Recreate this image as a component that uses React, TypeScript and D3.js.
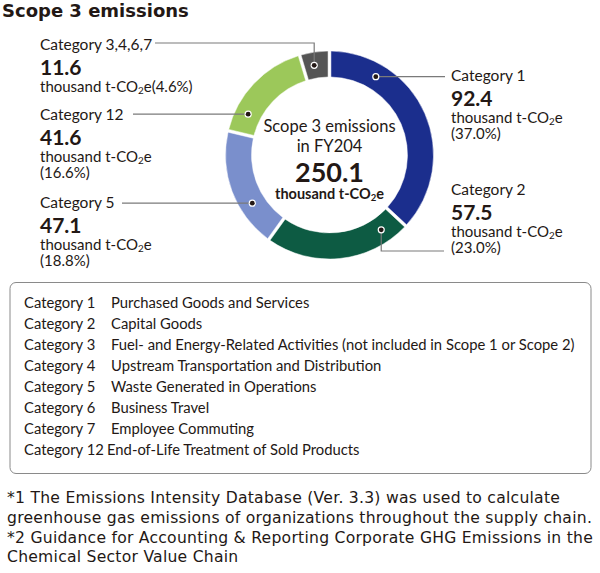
import React from 'react';
import * as d3 from 'd3';

// chart data
const categories = ['Category 1', 'Category 2', 'Category 5', 'Category 12', 'Category 3,4,6,7'];
const values = [92.4, 57.5, 47.1, 41.6, 11.6];
const shares = ['37.0%', '23.0%', '18.8%', '16.6%', '4.6%'];
const colors = ['#1b2e8d', '#0d5b43', '#7a8fcc', '#9cc85a', '#555555'];
const total = '250.1';

const legendCodes = ['Category 1', 'Category 2', 'Category 3', 'Category 4', 'Category 5', 'Category 6', 'Category 7', 'Category 12'];
const legendNames = [
    'Purchased Goods and Services',
    'Capital Goods',
    'Fuel- and Energy-Related Activities (not included in Scope 1 or Scope 2)',
    'Upstream Transportation and Distribution',
    'Waste Generated in Operations',
    'Business Travel',
    'Employee Commuting',
    'End-of-Life Treatment of Sold Products',
];

const footnotes = [
    '*1 The Emissions Intensity Database (Ver. 3.3) was used to calculate',
    'greenhouse gas emissions of organizations throughout the supply chain.',
    '*2 Guidance for Accounting & Reporting Corporate GHG Emissions in the',
    'Chemical Sector Value Chain',
];

// label layout: where the dot sits inside its slice (0..1), label anchor, elbow
const annot = [
    { t: 0.23, side: 'right', lx: 451, ly: 81, elbowY: null, lineEnd: 445 },
    { t: 0.15, side: 'right', lx: 451, ly: 195, elbowY: 251, lineEnd: 444 },
    { t: 0.33, side: 'left', lx: 40, ly: 208, elbowY: null, lineEnd: 122 },
    { t: 0.22, side: 'left', lx: 40, ly: 120, elbowY: null, lineEnd: 133 },
    { t: 0.42, side: 'left', lx: 40, ly: 50, elbowY: 43, lineEnd: 155 },
];

const FONT = 'Lato, "Noto Sans", sans-serif';
const TXT = '#231815';

// "t-CO2e" with a small subscript 2
const CO2e = ({ size }: { size: number }) => (
    <>
        t-CO<tspan fontSize={size * 0.66} dy={size * 0.14}>2</tspan><tspan dy={-size * 0.14}>e</tspan>
    </>
);

const App: React.FC = () => {
    const width = 600;
    const height = 573;
    const cx = 329.5;
    const cy = 155;
    const outerR = 104;
    const innerR = 78;
    const midR = (outerR + innerR) / 2;

    const pie = d3.pie<number>().sort(null).value(d => d);
    const slices = pie(values);
    const arc = d3.arc<d3.PieArcDatum<number>>()
        .innerRadius(innerR)
        .outerRadius(outerR)
        .padAngle(0.022);

    const pt = (a: number, r: number) => [cx + r * Math.sin(a), cy - r * Math.cos(a)];

    return (
        <svg width={width} height={height} style={{ position: 'absolute', left: 0, top: 0 }}>
            <rect width={width} height={height} fill="#fff" />
            <text x={2} y={17} fontFamily='"DejaVu Sans", Verdana, sans-serif' fontWeight="bold" fontSize={18} fill={TXT}>
                Scope 3 emissions
            </text>

            <g transform={`translate(${cx},${cy})`}>
                {slices.map((s, i) => (
                    <path key={i} d={arc(s) || ''} fill={colors[i]} stroke="#fff" strokeWidth={0.5} />
                ))}
            </g>

            {/* center text */}
            <g fontFamily={FONT} fill={TXT} textAnchor="middle">
                <text x={cx} y={132} fontSize={16.5}>Scope 3 emissions</text>
                <text x={cx} y={152} fontSize={16.5}>in FY204</text>
                <text x={cx} y={182} fontSize={27} fontWeight="bold">{total}</text>
                <text x={cx} y={198.5} fontSize={14.5} fontWeight="bold">thousand <CO2e size={14.5} /></text>
            </g>

            {/* leader lines and labels */}
            {slices.map((s, i) => {
                const a = annot[i];
                const ang = s.startAngle + (s.endAngle - s.startAngle) * a.t;
                const [dx, dy] = pt(ang, midR);
                const path = a.elbowY !== null
                    ? `M${dx},${dy}V${a.elbowY}H${a.lineEnd}`
                    : `M${dx},${dy}H${a.lineEnd}`;
                return (
                    <g key={i} fontFamily={FONT} fill={TXT}>
                        <path d={path} fill="none" stroke="#7a7a7a" strokeWidth={1.2} />
                        <circle cx={dx} cy={dy} r={3.6} fill="#fff" />
                        <circle cx={dx} cy={dy} r={2.4} fill="#231815" />
                        <text x={a.lx} y={a.ly} fontSize={15.5}>{categories[i]}</text>
                        <text x={a.lx} y={a.ly + 24.5} fontSize={21} fontWeight="bold">{values[i].toFixed(1)}</text>
                        {i === 4 ? (
                            <text x={a.lx} y={a.ly + 42} fontSize={15}>thousand <CO2e size={15} />({shares[i]})</text>
                        ) : (
                            <>
                                <text x={a.lx} y={a.ly + 42} fontSize={15}>thousand <CO2e size={15} /></text>
                                <text x={a.lx} y={a.ly + 57.5} fontSize={15}>({shares[i]})</text>
                            </>
                        )}
                    </g>
                );
            })}

            {/* legend box */}
            <rect x={10} y={282.5} width={581} height={191} rx={6} fill="none" stroke="#8a8a8a" strokeWidth={1} />
            <g fontFamily={FONT} fontSize={14.8} fill={TXT}>
                {legendCodes.map((c, i) => (
                    <g key={c}>
                        <text x={24} y={308 + i * 21}>{c}</text>
                        <text x={i === 7 ? 107 : 111} y={308 + i * 21}>{legendNames[i]}</text>
                    </g>
                ))}
            </g>

            <g fontFamily='"DejaVu Sans", Verdana, sans-serif' fontSize={15.6} letterSpacing={0.25} fill={TXT}>
                {footnotes.map((f, i) => (
                    <text key={i} x={7} y={503 + i * 19.8}>{f}</text>
                ))}
            </g>
        </svg>
    );
};

export default App;
